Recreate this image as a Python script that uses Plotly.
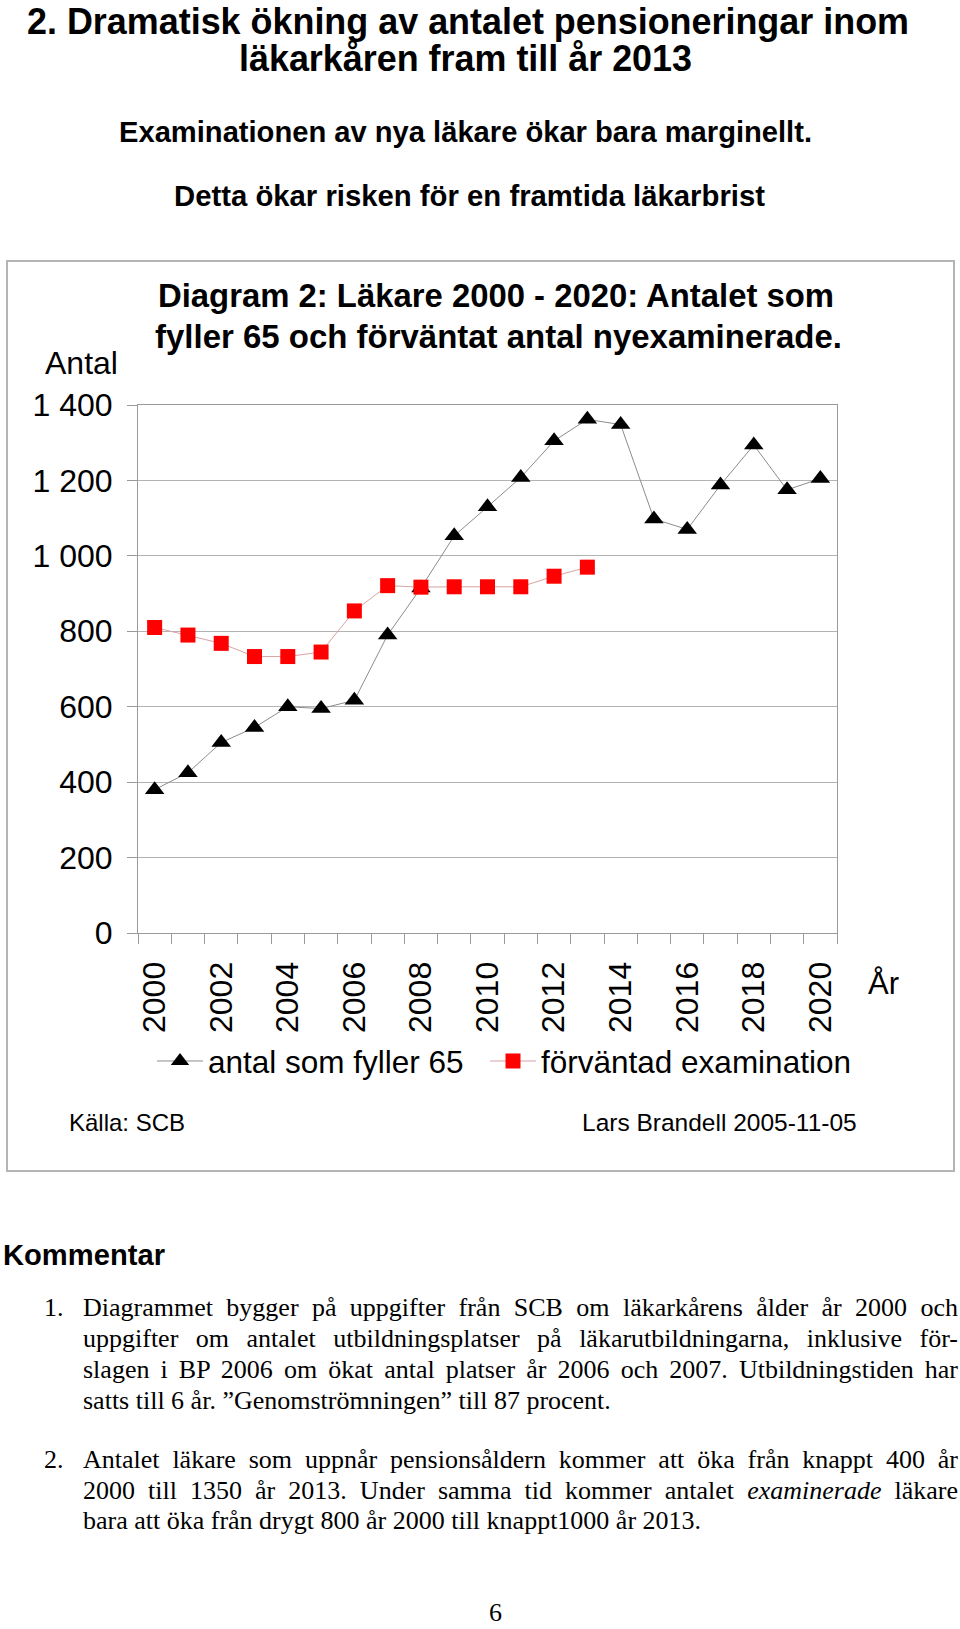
import json
import plotly.graph_objects as go

# ---------------- data ----------------
years = list(range(2000, 2021))
antal_som_fyller_65 = [380, 425, 505, 545, 600, 595, 617, 790, 915, 1053, 1130,
                       1208, 1305, 1362, 1348, 1098, 1070, 1188, 1294, 1175, 1205]
years_exam = list(range(2000, 2014))
forvantad_examination = [810, 790, 768, 733, 733, 745, 854, 921, 917, 918, 918,
                         918, 946, 970]
x_tick_vals = list(range(2000, 2021, 2))
x_tick_text = [str(v) for v in x_tick_vals]
y_tick_vals = [0, 200, 400, 600, 800, 1000, 1200, 1400]
y_tick_text = ["0", "200", "400", "600", "800", "1 000", "1 200", "1 400"]

series_names = ["antal som fyller 65", "förväntad examination"]

# ---------------- layout geometry (pixels) ----------------
W, H = 960, 1629
PL, PR, PT, PB = 138, 837, 405, 933   # plot area edges


def fx(px):
    return (px - PL) / (PR - PL)


def fy(py):
    return (PB - py) / (PB - PT)


SANS = "Liberation Sans, Arial, sans-serif"
SERIF = "Liberation Serif, Times New Roman, serif"
GRID = "#b3b3b3"
AXIS = "#9a9a9a"

fig = go.Figure()
fig.add_trace(go.Scatter(
    x=years, y=antal_som_fyller_65, name=series_names[0], mode="lines+markers",
    line=dict(color="#8c8c8c", width=1),
    marker=dict(symbol="triangle-up", size=17, color="black"),
    legend="legend",
))
fig.add_trace(go.Scatter(
    x=years_exam, y=forvantad_examination, name=series_names[1], mode="lines+markers",
    line=dict(color="#d9a3a3", width=1),
    marker=dict(symbol="square", size=15, color="#ff0000"),
    legend="legend2",
))

annotations = []
stretch = []   # (annotation index, target width, mode)


def ann(text, left, cy, size, family=SANS, bold=False, width=None, mode="stretch",
        anchor="left", yanchor="middle", borderpad=1):
    idx = len(annotations)
    annotations.append(dict(
        text=text, x=fx(left), y=fy(cy), xref="paper", yref="paper",
        xanchor=anchor, yanchor=yanchor, align="left", showarrow=False,
        borderpad=borderpad,
        font=dict(family=family, size=size, color="black",
                  weight=700 if bold else 400),
    ))
    if width is not None:
        stretch.append([idx, width, mode])


# page headings
ann("2. Dramatisk ökning av antalet pensioneringar inom", 26, 0, 36, bold=True, width=882,
    yanchor="top", borderpad=0)
ann("läkarkåren fram till år 2013", 237, 58, 36, bold=True, width=453)
ann("Examinationen av nya läkare ökar bara marginellt.", 117, 132, 29, bold=True, width=693)
ann("Detta ökar risken för en framtida läkarbrist", 172, 196, 29, bold=True, width=591)

# chart texts
ann("Diagram 2: Läkare 2000 - 2020: Antalet som", 156, 295, 33, bold=True, width=676)
ann("fyller 65 och förväntat antal nyexaminerade.", 153, 337, 33, bold=True, width=687)
ann("Antal", 43, 363, 32)
ann("År", 866, 983, 31)
ann("Källa: SCB", 67, 1122, 24)
ann("Lars Brandell 2005-11-05", 580, 1122, 24.5)

# commentary
ann("Kommentar", 1, 1255, 29, bold=True, width=162)
body_left, body_right = 81, 956
ann("1.", 42, 1307, 26, family=SERIF)
para1 = [
    ("Diagrammet bygger på uppgifter från SCB om läkarkårens ålder år 2000 och", True),
    ("uppgifter om antalet utbildningsplatser på läkarutbildningarna, inklusive för-", True),
    ("slagen i BP 2006 om ökat antal platser år 2006 och 2007. Utbildningstiden har", True),
    ("satts till 6 år. ”Genomströmningen” till 87 procent.", False),
]
for i, (line, just) in enumerate(para1):
    ann(line, body_left, 1307 + 31 * i, 26, family=SERIF,
        width=(body_right - body_left) if just else None, mode="justify")
ann("2.", 42, 1459, 26, family=SERIF)
para2 = [
    ("Antalet läkare som uppnår pensionsåldern kommer att öka från knappt 400 år", True),
    ("2000 till 1350 år 2013. Under samma tid kommer antalet <i>examinerade</i> läkare", True),
    ("bara att öka från drygt 800 år 2000 till knappt1000 år 2013.", False),
]
for i, (line, just) in enumerate(para2):
    ann(line, body_left, 1459 + 31 * i, 26, family=SERIF,
        width=(body_right - body_left) if just else None, mode="justify")
ann("6", 496, 1612, 26, family=SERIF, anchor="center")

shapes = [dict(type="rect", xref="paper", yref="paper", layer="below",
               x0=fx(7), x1=fx(954), y0=fy(1171), y1=fy(261),
               line=dict(color="#b4b4b4", width=2), fillcolor="rgba(0,0,0,0)")]

legend_common = dict(orientation="h", yanchor="middle", xanchor="left", y=fy(1061),
                     font=dict(family=SANS, size=31.5, color="black"),
                     itemwidth=46, bgcolor="rgba(0,0,0,0)", borderwidth=0)

fig.update_layout(
    width=W, height=H, autosize=False,
    margin=dict(l=PL, r=W - PR, t=PT, b=H - PB, pad=0),
    paper_bgcolor="white", plot_bgcolor="white",
    font=dict(family=SANS, color="black"),
    showlegend=True,
    legend=dict(x=fx(152), **legend_common),
    legend2=dict(x=fx(485), **legend_common),
    annotations=annotations,
    shapes=shapes,
    xaxis=dict(
        range=[1999.5, 2020.5], tickmode="array", tickvals=x_tick_vals, ticktext=x_tick_text,
        tickangle=-90, ticks="", showgrid=False, zeroline=False,
        showline=True, linecolor=AXIS, linewidth=1, mirror=True,
        tickfont=dict(family=SANS, size=32, color="black"),
        ticklabelstandoff=15,
        minor=dict(tick0=1999.5, dtick=1, ticks="outside", ticklen=10,
                   tickcolor=AXIS, tickwidth=1, showgrid=False),
    ),
    yaxis=dict(
        range=[0, 1400], tickmode="array", tickvals=y_tick_vals, ticktext=y_tick_text,
        ticks="outside", ticklen=10, tickcolor=AXIS, tickwidth=1,
        showgrid=True, gridcolor=GRID, gridwidth=1, zeroline=False,
        showline=True, linecolor=AXIS, linewidth=1, mirror=True,
        tickfont=dict(family=SANS, size=32, color="black"),
        ticklabelstandoff=8,
    ),
)

post_js = """
(function(){
  document.documentElement.style.margin = '0';
  document.body.style.margin = '0';
  document.body.style.padding = '0';
  document.body.style.overflow = 'hidden';
  var gd = document.getElementById('{plot_id}');
  var specs = SPECS;
  function apply(){
    specs.forEach(function(s){
      var t = gd.querySelector('g.annotation[data-index="' + s[0] + '"] text.annotation-text');
      if (!t) return;
      if (s[2] === 'justify') {
        t.style.wordSpacing = '0px';
        var w = t.getComputedTextLength();
        var n = (t.textContent.match(/ /g) || []).length;
        if (n > 0) t.style.wordSpacing = ((s[1] - w) / n) + 'px';
      } else {
        t.setAttribute('textLength', s[1]);
        t.setAttribute('lengthAdjust', 'spacingAndGlyphs');
      }
    });
  }
  apply();
  setTimeout(apply, 30);
  if (gd.on) gd.on('plotly_afterplot', function(){ setTimeout(apply, 0); });
})();
""".replace("SPECS", json.dumps(stretch))

fig.write_html("out.html", post_script=post_js, config={"displayModeBar": False})
